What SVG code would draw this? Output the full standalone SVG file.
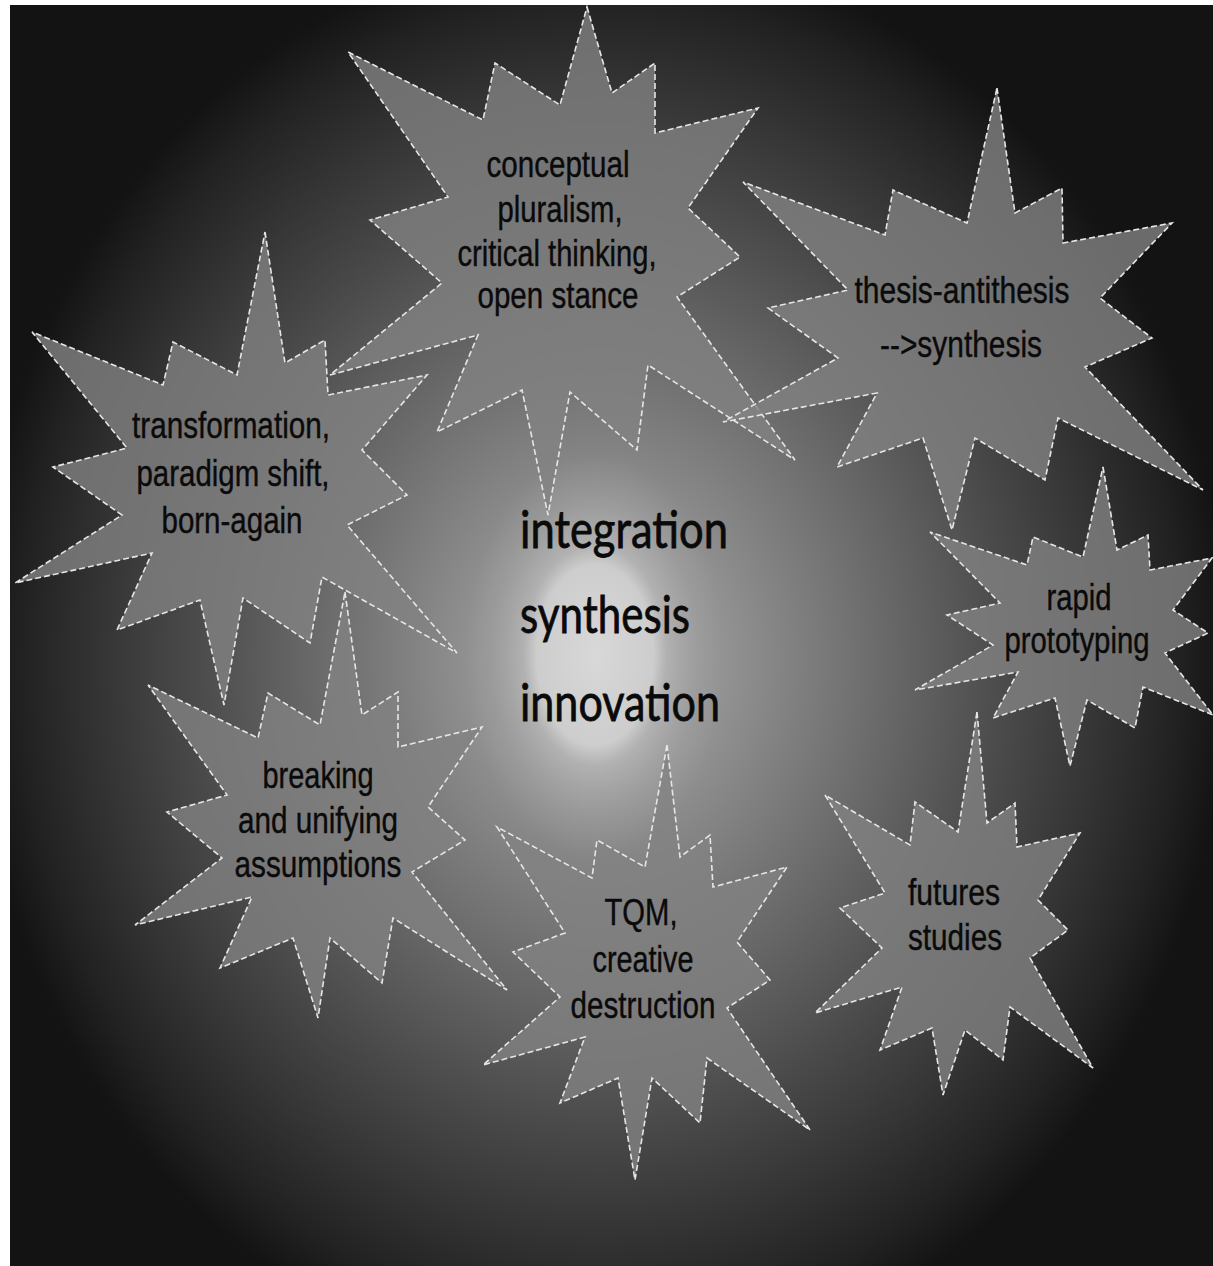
<svg xmlns="http://www.w3.org/2000/svg" width="1213" height="1266" viewBox="0 0 1213 1266">
<defs>
<radialGradient id="bg" gradientUnits="userSpaceOnUse" cx="600" cy="660" r="640" gradientTransform="translate(600 660) scale(0.98 1.12) translate(-600 -660)">
<stop offset="0" stop-color="#a8a8a8"/>
<stop offset="0.2" stop-color="#929292"/>
<stop offset="0.35" stop-color="#7a7a7a"/>
<stop offset="0.5" stop-color="#626262"/>
<stop offset="0.65" stop-color="#4a4a4a"/>
<stop offset="0.8" stop-color="#343434"/>
<stop offset="0.92" stop-color="#222222"/>
<stop offset="1" stop-color="#131313"/>
</radialGradient>
<radialGradient id="glow" gradientUnits="userSpaceOnUse" cx="595" cy="655" r="130" gradientTransform="translate(595 655) scale(1 1.55) translate(-595 -655)">
<stop offset="0" stop-color="#d8d8d8" stop-opacity="1"/>
<stop offset="0.45" stop-color="#cdcdcd" stop-opacity="1"/>
<stop offset="0.55" stop-color="#b4b4b4" stop-opacity="0.9"/>
<stop offset="0.8" stop-color="#a4a4a4" stop-opacity="0.4"/>
<stop offset="1" stop-color="#a0a0a0" stop-opacity="0"/>
</radialGradient>
<style>
.star{fill:#828282;fill-opacity:0.8;stroke:#e6e6e6;stroke-width:1.6;stroke-dasharray:6 3}
.lbl{font-family:"Liberation Sans",Arial,sans-serif;font-size:36px;fill:#0a0a0a;text-anchor:middle;stroke:#0a0a0a;stroke-width:0.4}
.core{font-family:Lato,"Open Sans",sans-serif;font-size:52px;fill:#0a0a0a;stroke:#0a0a0a;stroke-width:0.8}
</style>
</defs>
<rect width="1213" height="1266" fill="#ffffff"/>
<rect x="10" y="5" width="1203" height="1261" fill="url(#bg)"/>
<ellipse cx="595" cy="655" rx="135" ry="205" fill="url(#glow)"/>

<g id="star-conceptual">
<polygon class="star" points="587,7 612,93 655,63 655,133 758,108 688,208 740,257 677,297 795,460 648,365 637,450 570,392 548,515 522,390 437,432 478,335 330,375 442,283 370,220 448,197 348,52 483,120 495,63 560,105"/>
<text class="lbl"><tspan x="558" y="177" textLength="143" lengthAdjust="spacingAndGlyphs">conceptual</tspan><tspan x="560" y="222" textLength="125" lengthAdjust="spacingAndGlyphs">pluralism,</tspan><tspan x="557" y="266" textLength="199" lengthAdjust="spacingAndGlyphs">critical thinking,</tspan><tspan x="558" y="308" textLength="161" lengthAdjust="spacingAndGlyphs">open stance</tspan></text>
</g>

<g id="star-thesis">
<polygon class="star" points="997,88 1015,213 1062,188 1063,243 1172,223 1100,298 1152,338 1085,367 1203,490 1058,418 1045,480 975,438 952,530 923,438 837,467 877,393 723,422 838,358 768,308 848,290 743,182 885,235 893,190 967,223"/>
<text class="lbl"><tspan x="962" y="303" textLength="215" lengthAdjust="spacingAndGlyphs">thesis-antithesis</tspan><tspan x="961" y="357" textLength="162" lengthAdjust="spacingAndGlyphs">--&gt;synthesis</tspan></text>
</g>

<g id="star-transformation">
<polygon class="star" points="265,232 285,363 325,340 328,395 427,375 362,450 407,495 347,525 457,653 322,577 310,643 243,598 224,705 200,600 117,630 152,553 15,583 122,515 53,467 127,448 32,332 163,385 173,342 237,375"/>
<text class="lbl"><tspan x="231" y="438" textLength="198" lengthAdjust="spacingAndGlyphs">transformation,</tspan><tspan x="233" y="486" textLength="193" lengthAdjust="spacingAndGlyphs">paradigm shift,</tspan><tspan x="232" y="533" textLength="141" lengthAdjust="spacingAndGlyphs">born-again</tspan></text>
</g>

<g id="star-breaking">
<polygon class="star" points="345,592 362,715 398,692 398,747 482,727 428,807 465,840 412,872 507,990 393,918 382,983 330,938 318,1018 293,938 220,968 252,897 135,925 222,858 167,812 227,795 148,685 258,738 268,693 320,725"/>
<text class="lbl"><tspan x="318" y="788" textLength="111" lengthAdjust="spacingAndGlyphs">breaking</tspan><tspan x="318" y="833" textLength="160" lengthAdjust="spacingAndGlyphs">and unifying</tspan><tspan x="318" y="877" textLength="167" lengthAdjust="spacingAndGlyphs">assumptions</tspan></text>
</g>

<g id="star-tqm">
<polygon class="star" points="667,745 680,857 710,835 713,887 787,867 737,942 770,980 727,1008 810,1130 707,1058 700,1123 652,1078 635,1180 618,1078 560,1103 585,1037 483,1065 560,997 513,952 565,933 497,827 592,878 597,840 645,867"/>
<text class="lbl"><tspan x="641" y="925" textLength="73" lengthAdjust="spacingAndGlyphs">TQM,</tspan><tspan x="643" y="972" textLength="101" lengthAdjust="spacingAndGlyphs">creative</tspan><tspan x="643" y="1018" textLength="145" lengthAdjust="spacingAndGlyphs">destruction</tspan></text>
</g>

<g id="star-rapid">
<polygon class="star" points="1103,467 1117,550 1148,535 1150,570 1212,558 1173,610 1208,633 1165,653 1213,715 1143,687 1135,728 1087,700 1070,766 1055,698 993,718 1018,672 915,690 993,645 947,615 1000,603 930,532 1027,565 1033,537 1083,557"/>
<text class="lbl"><tspan x="1079" y="610" textLength="65" lengthAdjust="spacingAndGlyphs">rapid</tspan><tspan x="1077" y="653" textLength="145" lengthAdjust="spacingAndGlyphs">prototyping</tspan></text>
</g>

<g id="star-futures">
<polygon class="star" points="977,712 987,823 1015,803 1017,847 1080,833 1038,900 1068,930 1030,958 1093,1068 1010,1007 1003,1060 965,1030 943,1095 932,1028 880,1050 902,987 815,1013 882,948 840,908 885,893 825,795 910,845 915,802 958,832"/>
<text class="lbl"><tspan x="954" y="905" textLength="92" lengthAdjust="spacingAndGlyphs">futures</tspan><tspan x="955" y="950" textLength="94" lengthAdjust="spacingAndGlyphs">studies</tspan></text>
</g>

<g id="core">
<text class="core"><tspan x="520" y="548" textLength="208" lengthAdjust="spacingAndGlyphs">integration</tspan><tspan x="520" y="633" textLength="170" lengthAdjust="spacingAndGlyphs">synthesis</tspan><tspan x="520" y="721" textLength="200" lengthAdjust="spacingAndGlyphs">innovation</tspan></text>
</g>

<g id="connectors"></g>
</svg>
